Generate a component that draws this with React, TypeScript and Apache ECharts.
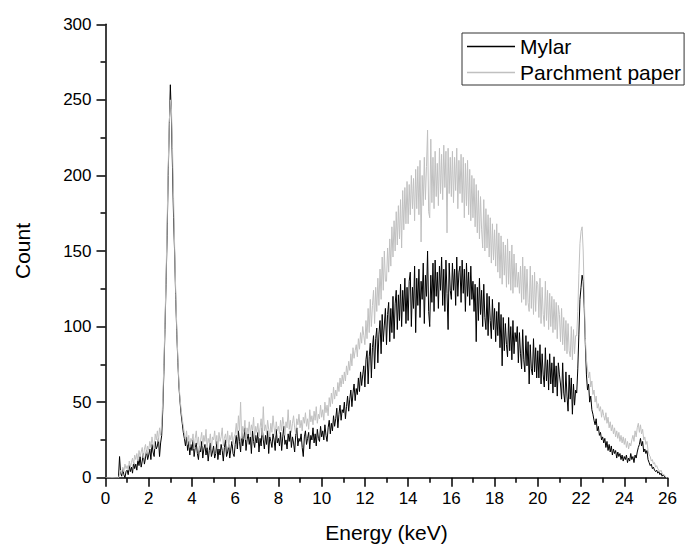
import React, { useEffect, useRef } from "react";
import * as echarts from "echarts";

// Energy axis: 0.00 .. 26.00 keV in 0.05 keV steps (20 values per keV row)
const energyStep = 0.05;
const xTicks = { min: 0, max: 26, interval: 2 };
const yTicks = { min: 0, max: 300, interval: 50 };
const seriesNames = ["Mylar", "Parchment paper"];

const mylar = [
  0, 0, 0, 0, 0, 0, 0, 0, 0, 0, 0, 0, 0, 14, 3, 1, 6, 2, 0, 4,
  5, 2, 8, 4, 7, 3, 10, 6, 9, 5, 12, 8, 14, 7, 11, 16, 9, 13, 18, 12,
  15, 19, 12, 22, 17, 14, 24, 19, 21, 26, 14, 23, 28, 45, 70, 98, 128, 160, 200, 232,
  260, 238, 205, 172, 148, 118, 95, 76, 60, 50, 42, 36, 30, 26, 21, 27, 18, 24, 15, 22,
  18, 25, 14, 20, 23, 16, 12, 21, 17, 24, 13, 19, 22, 15, 20, 11, 18, 23, 14, 17,
  21, 13, 16, 24, 12, 19, 15, 22, 18, 11, 20, 25, 14, 17, 22, 13, 19, 24, 16, 14,
  22, 28, 19, 31, 24, 17, 30, 21, 26, 33, 18, 25, 29, 22, 27, 16, 31, 24, 20, 28,
  23, 30, 17, 26, 21, 33, 25, 19, 28, 22, 31, 16, 27, 24, 20, 29, 25, 18, 32, 23,
  26, 21, 30, 18, 27, 34, 22, 25, 19, 29, 24, 31, 20, 27, 23, 17, 28, 33, 21, 26,
  24, 29, 20, 14, 27, 31, 22, 26, 30, 19, 28, 25, 33, 23, 29, 21, 32, 26, 24, 34,
  27, 31, 25, 35, 28, 24, 33, 38, 29, 36, 31, 41, 34, 39, 46, 33, 42, 48, 38, 45,
  43, 50, 39, 47, 54, 44, 52, 58, 47, 56, 62, 51, 59, 55, 66, 57, 70, 61, 68, 74,
  60, 78, 84, 62, 80, 89, 66, 86, 94, 72, 92, 99, 76, 95, 104, 82, 108, 90, 101, 112,
  88, 108, 116, 90, 112, 96, 120, 92, 115, 124, 98, 121, 104, 128, 100, 124, 110, 132, 102, 126,
  104, 130, 136, 100, 126, 112, 140, 96, 132, 114, 138, 106, 130, 118, 142, 102, 134, 120, 150, 110,
  100, 134, 116, 142, 110, 144, 120, 136, 112, 140, 124, 146, 114, 138, 110, 144, 122, 98, 142, 124,
  118, 142, 124, 138, 114, 146, 120, 136, 140, 116, 144, 122, 138, 110, 142, 120, 136, 114, 140, 118,
  130, 110, 128, 90, 126, 104, 132, 108, 124, 100, 128, 106, 98, 122, 94, 120, 104, 92, 118, 98,
  112, 90, 110, 94, 116, 86, 108, 74, 106, 84, 102, 88, 80, 106, 84, 100, 78, 104, 82, 96,
  90, 100, 76, 96, 82, 72, 98, 78, 70, 94, 74, 90, 62, 88, 72, 68, 92, 70, 86, 66,
  84, 66, 88, 62, 82, 68, 60, 86, 64, 78, 58, 82, 62, 76, 56, 80, 60, 74, 54, 76,
  68, 62, 52, 76, 56, 50, 70, 54, 44, 68, 52, 66, 42, 62, 48, 58, 56, 72, 95, 118,
  126, 134, 130, 112, 88, 68, 58, 62, 50, 54, 45, 42, 38, 35, 39, 31, 34, 28, 30, 25,
  27, 23, 26, 20, 24, 18, 22, 17, 21, 15, 19, 16, 18, 13, 17, 14, 16, 12, 15, 11,
  14, 12, 15, 10, 13, 11, 16, 12, 14, 10, 15, 13, 17, 20, 22, 26, 21, 24, 17, 19,
  16, 18, 12, 10, 8, 9, 6, 7, 5, 4, 5, 3, 4, 2, 3, 1, 2, 1, 0, 0,
  0,
];

const parchment = [
  0, 0, 0, 0, 0, 0, 0, 0, 0, 0, 0, 0, 0, 2, 5, 3, 7, 4, 9, 6,
  8, 5, 11, 7, 10, 13, 9, 15, 12, 16, 11, 18, 14, 17, 20, 13, 19, 22, 16, 21,
  18, 24, 20, 27, 22, 19, 29, 25, 31, 24, 33, 28, 36, 52, 75, 102, 132, 168, 205, 235,
  250, 244, 218, 185, 152, 122, 98, 78, 62, 52, 45, 39, 34, 29, 25, 31, 22, 28, 20, 26,
  24, 29, 19, 26, 31, 22, 27, 18, 25, 30, 21, 28, 24, 32, 20, 26, 23, 29, 19, 27,
  25, 31, 22, 28, 19, 30, 24, 27, 33, 21, 26, 29, 23, 31, 20, 28, 25, 30, 22, 27,
  29, 36, 27, 41, 31, 50, 26, 34, 30, 38, 25, 33, 29, 37, 28, 35, 31, 40, 26, 34,
  30, 36, 27, 33, 39, 28, 47, 31, 35, 29, 38, 32, 27, 36, 30, 41, 33, 28, 37, 31,
  34, 29, 38, 31, 40, 35, 28, 37, 33, 45, 32, 38, 30, 36, 41, 33, 29, 39, 35, 42,
  33, 38, 31, 40, 36, 43, 34, 39, 32, 45, 37, 41, 35, 44, 38, 47, 36, 42, 39, 48,
  40, 45, 38, 50, 43, 48, 41, 53, 47, 56, 49, 60, 52, 58, 54, 63, 57, 66, 60, 68,
  62, 70, 64, 74, 68, 77, 71, 82, 74, 86, 79, 84, 88, 80, 92, 85, 96, 89, 100, 94,
  88, 104, 92, 112, 96, 118, 100, 114, 124, 102, 126, 110, 132, 114, 138, 118, 146, 124, 150, 130,
  130, 152, 136, 158, 140, 166, 146, 170, 150, 176, 154, 180, 158, 184, 152, 190, 164, 192, 168, 196,
  168, 194, 174, 200, 178, 198, 170, 204, 178, 206, 174, 210, 156, 200, 180, 212, 184, 206, 230, 176,
  172, 224, 182, 212, 178, 216, 186, 208, 180, 218, 188, 214, 184, 220, 192, 216, 162, 218, 188, 212,
  186, 216, 182, 212, 190, 218, 178, 210, 188, 214, 182, 212, 172, 208, 180, 210, 174, 204, 170, 200,
  172, 198, 166, 194, 162, 190, 158, 186, 164, 152, 184, 150, 178, 152, 174, 146, 172, 142, 168, 144,
  164, 140, 168, 136, 162, 132, 160, 128, 156, 134, 154, 126, 158, 128, 150, 124, 154, 122, 148, 126,
  142, 126, 136, 122, 140, 116, 146, 118, 140, 114, 138, 116, 110, 140, 112, 134, 108, 136, 110, 130,
  128, 106, 132, 102, 126, 108, 100, 130, 104, 124, 98, 122, 100, 120, 96, 118, 98, 116, 92, 114,
  108, 90, 112, 88, 106, 84, 104, 82, 102, 84, 80, 100, 78, 98, 82, 94, 94, 110, 135, 155,
  163, 166, 150, 120, 92, 78, 72, 66, 70, 60, 64, 55, 58, 50, 54, 46, 49, 44, 47, 40,
  45, 41, 38, 43, 36, 40, 33, 37, 31, 35, 29, 33, 27, 31, 26, 30, 24, 28, 23, 27,
  22, 26, 20, 24, 19, 23, 21, 25, 28, 24, 31, 27, 33, 36, 30, 35, 29, 32, 25, 27,
  22, 24, 18, 15, 14, 11, 12, 9, 10, 7, 8, 6, 5, 4, 5, 3, 2, 2, 1, 0,
  0,
];

const toPairs = (vals: number[]) =>
  vals.map((v, i) => [Math.round(i * energyStep * 100) / 100, v]);

const FONT = "Liberation Sans, Arial, sans-serif";

export default function App() {
  const ref = useRef<HTMLDivElement>(null);
  useEffect(() => {
    if (!ref.current) return;
    const chart = echarts.init(ref.current, undefined, { renderer: "svg" });
    const axisCommon = {
      axisLine: { show: true, lineStyle: { color: "#000", width: 1.5 } },
      axisTick: { show: true, inside: false, length: 9, lineStyle: { color: "#000", width: 1.5 } },
      minorTick: { show: true, splitNumber: 2, length: 5, lineStyle: { color: "#000", width: 1.5 } },
      splitLine: { show: false },
      minorSplitLine: { show: false },
      axisLabel: { color: "#000", fontSize: 17, fontFamily: FONT },
      nameTextStyle: { color: "#000", fontSize: 21, fontFamily: FONT },
    };
    chart.setOption({
      animation: false,
      backgroundColor: "#fff",
      grid: {
        left: 105.5,
        right: 21.5,
        top: 24.3,
        bottom: 69.3,
        outerBoundsMode: "none",
      },
      legend: {
        show: true,
        orient: "vertical",
        left: 462,
        top: 33,
        data: seriesNames,
        icon: "rect",
        borderColor: "#333",
        borderWidth: 1,
        padding: [3, 3, 2, 5],
        itemGap: 5,
        itemWidth: 48,
        itemHeight: 1.5,
        textStyle: { color: "#000", fontSize: 21, fontFamily: FONT },
      },
      xAxis: {
        type: "value",
        ...xTicks,
        name: "Energy (keV)",
        nameLocation: "middle",
        nameGap: 44,
        ...axisCommon,
        axisLabel: { ...axisCommon.axisLabel, margin: 12 },
      },
      yAxis: {
        type: "value",
        ...yTicks,
        name: "Count",
        nameLocation: "middle",
        nameGap: 73,
        ...axisCommon,
        axisLabel: { ...axisCommon.axisLabel, margin: 14 },
      },
      series: [
        {
          name: seriesNames[0],
          type: "line",
          data: toPairs(mylar),
          symbol: "none",
          lineStyle: { color: "#000", width: 1 },
          itemStyle: { color: "#000" },
          z: 2,
        },
        {
          name: seriesNames[1],
          type: "line",
          data: toPairs(parchment),
          symbol: "none",
          lineStyle: { color: "#c0c0c0", width: 1 },
          itemStyle: { color: "#c0c0c0" },
          z: 3,
        },
      ],
    });
    return () => chart.dispose();
  }, []);
  return (
    <div
      ref={ref}
      style={{ position: "absolute", left: 0, top: 0, width: 689, height: 547 }}
    />
  );
}
